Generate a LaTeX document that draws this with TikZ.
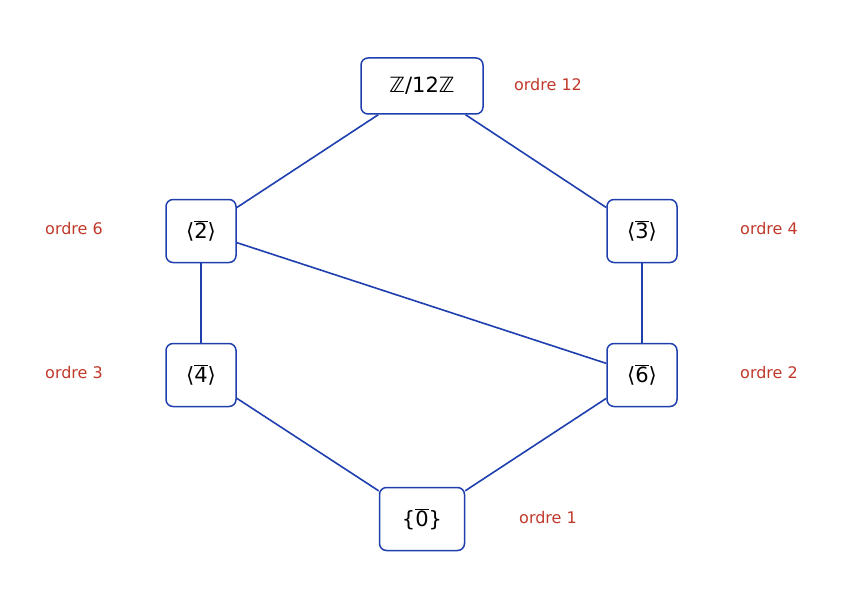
\documentclass[tikz,border=0pt]{standalone}
\usepackage{fontspec}
\setmainfont{DejaVu Sans}
\begin{document}
\newcommand{\ob}[1]{$\overline{\hbox{#1}}$}
\definecolor{bl}{HTML}{1F3FAF}
\definecolor{rd}{HTML}{C0392B}
\begin{tikzpicture}[x=1pt,y=-1pt,
 box/.style={draw=bl,line width=1.5pt,rounded corners=7pt,fill=white,minimum height=57pt,minimum width=70pt,font=\fontsize{21}{24}\selectfont,inner sep=2pt},
 lab/.style={text=rd,font=\fontsize{16}{19}\selectfont},
 edge/.style={draw=bl,line width=1.6pt}]
\useasboundingbox (0,0) rectangle (843,607);
\node[box,minimum width=122pt,minimum height=56pt] (z) at (422,86) {ℤ/12ℤ};
\node[box,minimum height=63pt] (a) at (201,231) {⟨\ob{2}⟩};
\node[box,minimum height=63pt] (b) at (642,231) {⟨\ob{3}⟩};
\node[box,minimum height=63pt] (c) at (201,375) {⟨\ob{4}⟩};
\node[box,minimum height=63pt] (d) at (642,375) {⟨\ob{6}⟩};
\node[box,minimum width=85pt,minimum height=63pt] (e) at (422,519) {\{\ob{0}\}};
\begin{scope}[on background layer/.style={}]
\end{scope}
\node[lab] (l1) at (548,85) {ordre 12};
\node[lab] (l2) at (74,229) {ordre 6};
\node[lab] (l3) at (769,229) {ordre 4};
\node[lab] (l4) at (74,373) {ordre 3};
\node[lab] (l5) at (769,373) {ordre 2};
\node[lab] (l6) at (548,518) {ordre 1};
\draw[edge] (z) -- (a);
\draw[edge] (z) -- (b);
\draw[edge] (a) -- (c);
\draw[edge] (a) -- (d);
\draw[edge] (b) -- (d);
\draw[edge] (c) -- (e);
\draw[edge] (d) -- (e);
\end{tikzpicture}
\end{document}
